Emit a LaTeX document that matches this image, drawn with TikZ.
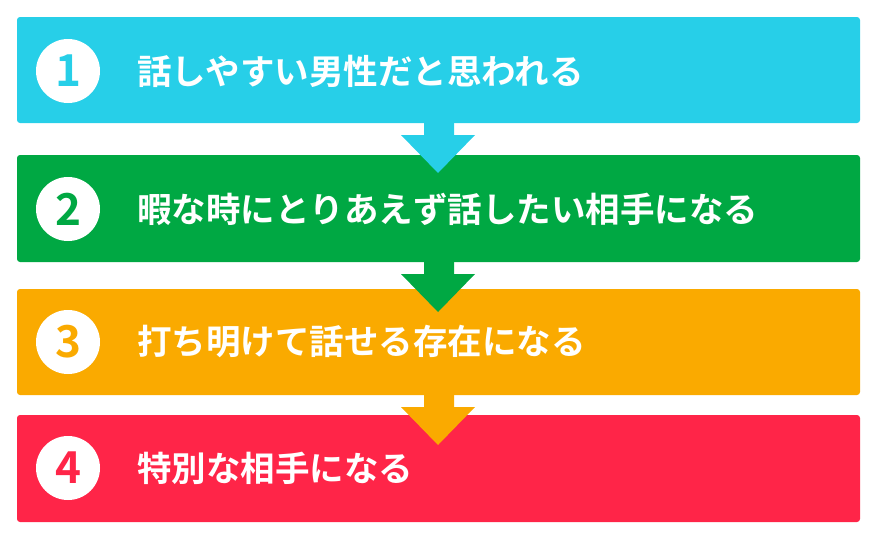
\documentclass[tikz,border=0pt]{standalone}
\usepackage{fontspec}
\newfontfamily\jp{Noto Sans CJK JP Bold}
\usetikzlibrary{calc}
\definecolor{c1}{HTML}{27CFE8}
\definecolor{c2}{HTML}{00A843}
\definecolor{c3}{HTML}{FAAA00}
\definecolor{c4}{HTML}{FF2548}
\begin{document}
\begin{tikzpicture}[x=1pt,y=-1pt,
  bar/.style={rounded corners=3pt,draw=none},
  num/.style={circle,fill=white,minimum size=64pt,inner sep=0pt,font=\jp\fontsize{44}{44}\selectfont},
  lbl/.style={anchor=west,text=white,inner sep=0pt,font=\jp\fontsize{34.5}{34.5}\selectfont}]
\useasboundingbox (0,0) rectangle (880,552);
\def\arrowdown#1#2{\fill[#1] (424,#2-18) -- (454,#2-18) -- (454,#2+12) -- (475,#2+12) -- (438,#2+50) -- (401,#2+12) -- (424,#2+12) -- cycle;}
\fill[bar,c1] (17,17) rectangle (860,123);
\fill[bar,c2] (17,155) rectangle (860,262);
\fill[bar,c3] (17,289) rectangle (860,395);
\fill[bar,c4] (17,415) rectangle (860,522);
\arrowdown{c1}{123}
\arrowdown{c2}{262}
\arrowdown{c3}{395}
\node[num,text=c1] (n1) at (68,71) {1};
\node[num,text=c2] (n2) at (68,209) {2};
\node[num,text=c3] (n3) at (68,342) {3};
\node[num,text=c4] (n4) at (68,468) {4};
\node[lbl] (t1) at (137,71) {話しやすい男性だと思われる};
\node[lbl] (t2) at (137,209) {暇な時にとりあえず話したい相手になる};
\node[lbl] (t3) at (137,342) {打ち明けて話せる存在になる};
\node[lbl] (t4) at (137,468) {特別な相手になる};
\end{tikzpicture}
\end{document}
